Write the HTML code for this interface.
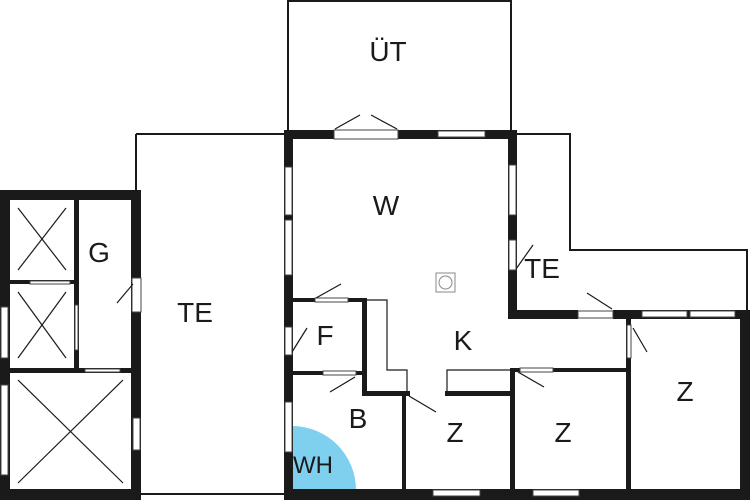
<!DOCTYPE html>
<html><head><meta charset="utf-8"><style>
html,body{margin:0;padding:0;background:#fff;width:750px;height:500px;overflow:hidden}
svg{display:block}
text{font-family:"Liberation Sans",sans-serif;font-size:28px;fill:#1a1a1a}
</style></head><body>
<svg width="750" height="500" viewBox="0 0 750 500" xmlns="http://www.w3.org/2000/svg">
<rect width="750" height="500" fill="#fff"/>
<!-- thin outlines -->
<g fill="none" stroke="#1a1a1a" stroke-width="2">
<rect x="288" y="1" width="223" height="132"/>
<polyline points="136,134 136,494 286,494"/>
<line x1="136" y1="134" x2="286" y2="134"/>
<polyline points="514,134 570,134 570,250 747,250 747,312"/>
</g>
<!-- WH -->
<path d="M292,490 L292,426 A64,64 0 0 1 356,490 Z" fill="#7fcfef"/>
<!-- thick walls main -->
<g fill="#1a1a1a">
<rect x="284" y="130" width="233" height="9"/>
<rect x="284" y="130" width="9" height="370"/>
<rect x="284" y="489" width="466" height="11"/>
<rect x="508" y="130" width="9" height="188"/>
<rect x="508" y="310" width="70" height="9"/>
<rect x="613" y="310" width="137" height="9"/>
<rect x="740" y="310" width="10" height="190"/>
<rect x="292" y="298" width="72" height="4"/>
<rect x="292" y="371" width="72" height="4"/>
<rect x="362" y="298" width="5" height="97"/>
<rect x="362" y="391" width="48" height="5"/>
<rect x="402" y="391" width="4" height="108"/>
<rect x="445" y="391" width="68" height="5"/>
<rect x="510" y="368" width="5" height="130"/>
<rect x="510" y="368" width="42" height="4"/>
<rect x="552" y="368" width="78" height="4"/>
<rect x="626" y="316" width="5" height="183"/>
<!-- left building -->
<rect x="0" y="190" width="141" height="10"/>
<rect x="0" y="190" width="10" height="310"/>
<rect x="0" y="489" width="141" height="11"/>
<rect x="131" y="190" width="10" height="310"/>
<rect x="74" y="200" width="5" height="172"/>
<rect x="8" y="368" width="126" height="5"/>
<rect x="8" y="280" width="68" height="4"/>
</g>
<!-- openings (white with thin lines) -->
<g fill="#fff" stroke="#444" stroke-width="1">
<rect x="334" y="130" width="64" height="9"/>
<rect x="438" y="131" width="47" height="6"/>
<rect x="285" y="167" width="7" height="48"/>
<rect x="285" y="220" width="7" height="55"/>
<rect x="285" y="327" width="7" height="28"/>
<rect x="285" y="402" width="7" height="50"/>
<rect x="509" y="165" width="7" height="50"/>
<rect x="509" y="240" width="7" height="30"/>
<rect x="578" y="311" width="35" height="7"/>
<rect x="642" y="311" width="45" height="6"/>
<rect x="690" y="311" width="45" height="6"/>
<rect x="627" y="325" width="4" height="33"/>
<rect x="433" y="490" width="47" height="6"/>
<rect x="533" y="490" width="46" height="6"/>
<rect x="315" y="298" width="33" height="4"/>
<rect x="323" y="371" width="33" height="4"/>
<rect x="520" y="368" width="33" height="4"/>
<rect x="132" y="278" width="9" height="34"/>
<rect x="133" y="418" width="7" height="32"/>
<rect x="1" y="307" width="7" height="51"/>
<rect x="1" y="385" width="7" height="90"/>
<rect x="30" y="281" width="40" height="3"/>
<rect x="85" y="369" width="35" height="3"/>
<rect x="75" y="305" width="3" height="45"/>
</g>
<!-- thin interior lines -->
<g fill="none" stroke="#1a1a1a" stroke-width="1.2">
<polyline points="367,300 387,300 387,370 407,370 407,392"/>
<polyline points="447,392 447,370 512,370"/>
<!-- crosses -->
<line x1="18" y1="208" x2="66" y2="270"/><line x1="66" y1="208" x2="18" y2="270"/>
<line x1="18" y1="292" x2="66" y2="358"/><line x1="66" y1="292" x2="18" y2="358"/>
<line x1="18" y1="380" x2="123" y2="483"/><line x1="123" y1="380" x2="18" y2="483"/>
<!-- door swings -->
<line x1="335" y1="129" x2="360" y2="115"/><line x1="397" y1="129" x2="371" y2="115"/>
<line x1="117" y1="303" x2="133" y2="284"/>
<line x1="316" y1="298" x2="341" y2="284"/>
<line x1="292" y1="352" x2="307" y2="328"/>
<line x1="330" y1="392" x2="355" y2="377"/>
<line x1="409" y1="396" x2="436" y2="412"/>
<line x1="516" y1="269" x2="533" y2="245"/>
<line x1="587" y1="293" x2="612" y2="309"/>
<line x1="633" y1="328" x2="647" y2="352"/>
<line x1="518" y1="372" x2="544" y2="387"/>
</g>
<rect x="436" y="273" width="19" height="19" fill="none" stroke="#888" stroke-width="1"/>
<circle cx="445.5" cy="282.5" r="6.5" fill="none" stroke="#888" stroke-width="1"/>
<!-- labels -->
<text x="388" y="61" text-anchor="middle">ÜT</text>
<text x="386" y="215" text-anchor="middle">W</text>
<text x="99" y="262" text-anchor="middle">G</text>
<text x="195" y="322" text-anchor="middle">TE</text>
<text x="542" y="278" text-anchor="middle">TE</text>
<text x="325" y="345" text-anchor="middle">F</text>
<text x="463" y="350" text-anchor="middle">K</text>
<text x="358" y="428" text-anchor="middle">B</text>
<text x="455" y="442" text-anchor="middle">Z</text>
<text x="563" y="442" text-anchor="middle">Z</text>
<text x="685" y="401" text-anchor="middle">Z</text>
<text x="313" y="473" text-anchor="middle" style="font-size:24px">WH</text>
</svg>
</body></html>
